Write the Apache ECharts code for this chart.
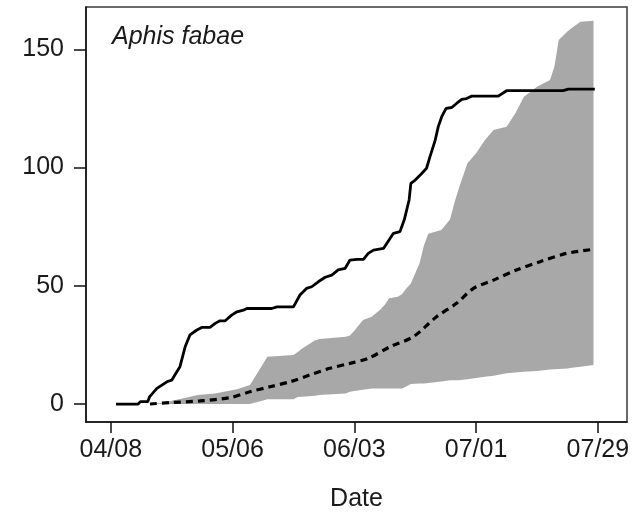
<!DOCTYPE html>
<html>
<head>
<meta charset="utf-8">
<script src="https://cdn.jsdelivr.net/npm/echarts@6/dist/echarts.min.js"></script>
<style>
html,body{margin:0;padding:0;background:#fff;}
#chart{width:644px;height:514px;}
</style>
</head>
<body>
<div id="chart"></div>
<script>
// x values are days after 04/08
var tickDays = [0, 28, 56, 84, 112];
var tickLabels = ['04/08', '05/06', '06/03', '07/01', '07/29'];
var yTicks = [0, 50, 100, 150];

var observedDays = [1.2, 6.3, 6.8, 8.5, 8.9, 10.6, 12.9, 14, 15.9, 17.1, 18.2, 19.8, 20.9, 22.8, 24, 25.1, 26.3, 27.8, 29, 30.5, 31.3, 37, 38.2, 42, 43.5, 45, 46.2, 47.7, 49.3, 50.8, 52.3, 53.9, 55, 56.6, 58.1, 59.2, 60.4, 62.7, 65, 66.5, 67.5, 68.6, 69, 70, 71.5, 72.6, 73.4, 74.6, 75.3, 76.1, 77.1, 78.4, 79.5, 80.7, 81.8, 83, 89.1, 91, 104, 105.2, 111.3];
var observedVals = [0, 0, 1, 1, 3, 6.6, 9.4, 10.1, 15.8, 24.2, 29.2, 31.3, 32.4, 32.4, 34.1, 35.2, 35.2, 37.6, 39, 39.7, 40.4, 40.4, 41.1, 41.1, 46.1, 48.9, 49.6, 51.7, 53.6, 54.5, 56.7, 57.4, 60.9, 61.2, 61.2, 63.7, 65.1, 65.8, 72.2, 72.9, 78, 86.3, 93.3, 94.7, 97.5, 99.7, 104.6, 111.6, 117.3, 121.5, 125, 125.4, 127.1, 128.8, 129.2, 130.2, 130.2, 132.5, 132.5, 133.2, 133.2];

var meanDays = [9, 13.6, 20.5, 27.4, 32, 36.6, 41.2, 45.8, 50.4, 55, 59.2, 64.2, 69.6, 74.9, 79.5, 83.4, 88, 93.3, 98.7, 104.8, 110.9];
var meanVals = [0, 0.6, 1.3, 2.7, 5.2, 7.3, 9.4, 12.3, 15.1, 17.2, 19.3, 24.2, 28.5, 36.9, 42.6, 48.9, 52.4, 56.7, 60.2, 63.7, 65.4];

var bandDays  = [10, 13, 17, 20, 24, 26, 29, 32, 33, 34, 36, 42, 43, 44, 47, 48, 54, 55, 56, 58, 60, 62, 63, 64, 66, 67, 68, 69, 71, 72, 73, 76, 78, 79, 80, 82, 84, 86, 88, 91, 93, 95, 98, 101, 102, 103, 105, 106, 108, 111];
var bandLower = [0, 0, 0, 0, 0, 0, 0, 0, 0.5, 1, 2, 2, 3, 3.1, 3.5, 3.8, 4.5, 5.2, 5.5, 6, 6.6, 6.6, 6.6, 6.6, 6.6, 6.6, 7.5, 8.5, 8.7, 8.7, 8.9, 9.5, 10.1, 10.1, 10.1, 10.5, 11, 11.5, 12, 13, 13.3, 13.6, 14, 14.6, 14.7, 14.8, 15, 15.3, 15.8, 16.5];
var bandUpper = [0, 1, 2.5, 3.8, 4.5, 5.2, 6.2, 8, 11, 14, 20, 20.7, 22, 23.5, 27, 27.5, 28.5, 29, 31, 35.5, 36.9, 40, 42, 44.7, 45.4, 46.5, 49, 51, 59.5, 67, 72, 73.6, 78, 85, 91, 101.8, 106, 111.6, 115.9, 117.3, 122.9, 129.9, 134.2, 137, 142.6, 153.9, 157.5, 159, 161.7, 162.1];

function pairs(xs, ys) { return xs.map(function (x, i) { return [x, ys[i]]; }); }
var bandData = bandDays.map(function (d, i) { return [d, bandLower[i], bandUpper[i]]; });

var FONT = 'Liberation Sans, Arial, Helvetica, sans-serif';
var chart = echarts.init(document.getElementById('chart'), null, {renderer: 'canvas'});
chart.setOption({
  animation: false,
  backgroundColor: '#ffffff',
  grid: {left: 86, right: 17, top: 7, bottom: 92, show: true, borderColor: '#3a3a3a', borderWidth: 1.5,
    backgroundColor: 'transparent', containLabel: false, outerBoundsMode: 'none'},
  xAxis: {
    type: 'value', min: -5.7, max: 118.7,
    name: 'Date', nameLocation: 'middle', nameGap: 65,
    nameTextStyle: {fontFamily: FONT, fontSize: 25, color: '#1a1a1a'},
    axisLine: {show: true, onZero: false, lineStyle: {color: '#111', width: 1.5}},
    axisTick: {show: true, length: 11, customValues: tickDays, lineStyle: {color: '#111', width: 1.5}},
    axisLabel: {customValues: tickDays, margin: 16, fontFamily: FONT, fontSize: 25, color: '#1a1a1a',
      formatter: function (v) { var i = tickDays.indexOf(v); return i >= 0 ? tickLabels[i] : ''; }},
    splitLine: {show: false}
  },
  yAxis: {
    type: 'value', min: -7.6, max: 167.9,
    axisLine: {show: true, onZero: false, lineStyle: {color: '#111', width: 1.5}},
    axisTick: {show: true, length: 12, customValues: yTicks, lineStyle: {color: '#111', width: 1.5}},
    axisLabel: {customValues: yTicks, margin: 22, fontFamily: FONT, fontSize: 25, color: '#1a1a1a'},
    splitLine: {show: false}
  },
  graphic: [{
    type: 'text', x: 112, y: 37,
    style: {text: 'Aphis fabae', font: 'italic 25px ' + FONT, fill: '#1a1a1a', verticalAlign: 'middle', align: 'left'}
  }],
  series: [
    {
      type: 'custom', data: bandData, silent: true, z: 1,
      encode: {x: 0, y: [1, 2]},
      renderItem: function (params, api) {
        if (params.dataIndex !== 0) return null;
        var top = [], bottom = [];
        for (var i = 0; i < bandData.length; i++) {
          top.push(api.coord([bandData[i][0], bandData[i][2]]));
          bottom.push(api.coord([bandData[i][0], bandData[i][1]]));
        }
        return {type: 'polygon', shape: {points: top.concat(bottom.reverse())}, style: {fill: '#a8a8a8'}};
      }
    },
    {type: 'line', data: pairs(meanDays, meanVals), symbol: 'none', smooth: 0.3,
      lineStyle: {color: '#000', width: 3.2, type: [7, 5]}, z: 3},
    {type: 'line', data: pairs(observedDays, observedVals), symbol: 'none',
      lineStyle: {color: '#000', width: 2.8}, z: 4}
  ]
});
</script>
</body>
</html>
